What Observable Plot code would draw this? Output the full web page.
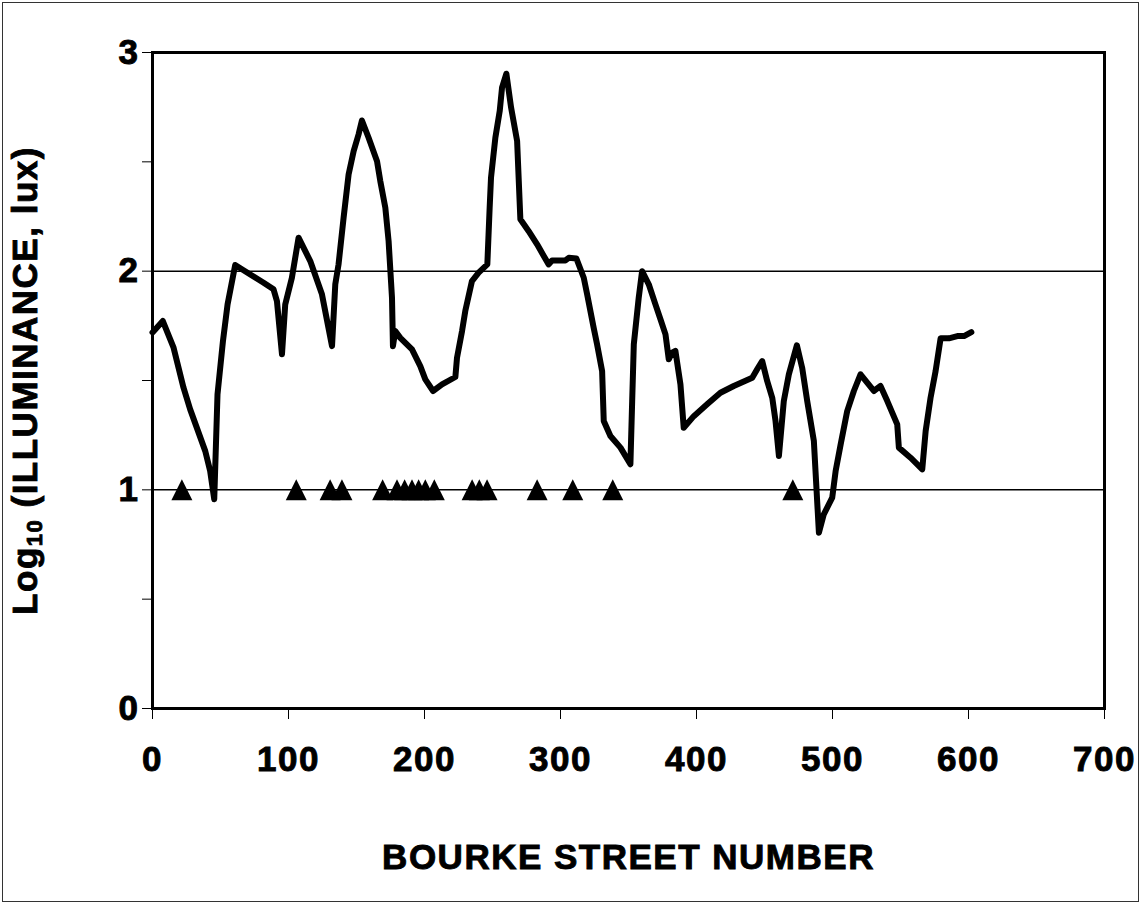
<!DOCTYPE html>
<html>
<head>
<meta charset="utf-8">
<script src="https://cdn.jsdelivr.net/npm/d3@7"></script>
<script src="https://cdn.jsdelivr.net/npm/@observablehq/plot@0.6"></script>
<style>
  html, body { margin: 0; padding: 0; background: #fff; }
  #chart svg { display: block; outline: 1px solid #333; outline-offset: -3px; }
  #chart svg text { stroke: black; stroke-width: 0.9px; paint-order: stroke; }
</style>
</head>
<body>
<div id="chart"></div>
<script>
// Bourke Street number (x) and log10 illuminance (y)
const streetNumber = [
  0, 7.6, 15.5, 22.8, 27.7, 38.8, 42.4, 45.4, 47.8, 51.8, 55.2, 60.8, 71.9, 81.7, 89, 91.5, 95.2, 97.6,
  102.5, 107.4, 116, 124.6, 132, 134.4, 136.8, 140.5, 144.2, 147.9, 151.5, 154, 158.9, 165.1, 167.5,
  171.2, 173.6, 176.1, 176.8, 178.5, 182.2, 190.8, 196.9, 200.6, 206.3, 212.9, 222.7, 223.9, 227.6,
  230, 234.9, 239.8, 246.2, 247.9, 248.9, 252.1, 255.3, 257, 260.2, 263.7, 268.1, 270.5, 276.6,
  282.8, 287.7, 291.3, 293.8, 303.6, 306.1, 311.7, 317.1, 319.6, 324.4, 326.9, 330.6, 331.8, 336.7,
  344.1, 351.4, 352.7, 353.9, 357.5, 360, 364.9, 369.8, 373.5, 377.2, 379.6, 382.1, 384.5, 388.2,
  390.6, 398, 407.8, 417.6, 427.4, 441, 444.6, 448.3, 452, 455.7, 458.1, 460.6, 464.2, 467.9, 473.8,
  477.7, 481.4, 486.3, 490, 493.6, 499.8, 502.3, 506, 510.8, 515.7, 520.6, 525.5, 530.4, 535.3,
  540.3, 547.6, 548.8, 557.4, 566, 568.5, 572.1, 575.8, 579.5, 585.6, 591.8, 596.7, 602.1
];
const logIlluminance = [
  1.72, 1.772, 1.65, 1.467, 1.368, 1.177, 1.086, 0.957, 1.437, 1.68, 1.848, 2.028, 1.985, 1.947, 1.917, 1.863, 1.62, 1.848,
  1.97, 2.153, 2.046, 1.894, 1.657, 1.94, 2.031, 2.244, 2.443, 2.549, 2.625, 2.689, 2.61, 2.503, 2.412,
  2.29, 2.138, 1.878, 1.657, 1.726, 1.695, 1.642, 1.566, 1.505, 1.452, 1.482, 1.516, 1.604, 1.726,
  1.818, 1.955, 1.993, 2.031, 2.29, 2.427, 2.61, 2.732, 2.839, 2.903, 2.747, 2.595, 2.237, 2.183,
  2.123, 2.069, 2.031, 2.049, 2.049, 2.061, 2.058, 1.97, 1.894, 1.741, 1.665, 1.543, 1.315, 1.246,
  1.193, 1.117, 1.406, 1.665, 1.878, 2.0, 1.94, 1.848, 1.78, 1.711, 1.597, 1.627, 1.635, 1.482,
  1.284, 1.337, 1.391, 1.444, 1.475, 1.513, 1.551, 1.589, 1.497, 1.421, 1.315, 1.155, 1.406, 1.528, 1.661,
  1.558, 1.406, 1.223, 0.804, 0.888, 0.964, 1.086, 1.208, 1.36, 1.452, 1.528, 1.49, 1.452, 1.475,
  1.406, 1.299, 1.193, 1.147, 1.094, 1.269, 1.421, 1.543, 1.693, 1.693, 1.703, 1.703, 1.721
];

// Triangle markers (street numbers) drawn at log level 1
const markerNumber = [21.6, 105.7, 130.6, 139.3, 169.2, 179.8, 185.4, 190.8, 195.7, 200.6, 207.2, 235, 240.3, 246, 282.8, 309, 338.4, 470.8];
const markerLevel  = [1, 1, 1, 1, 1, 1, 1, 1, 1, 1, 1, 1, 1, 1, 1, 1, 1, 1];

const xTicks = [0, 100, 200, 300, 400, 500, 600, 700];
const yTicks = [0, 0.5, 1, 1.5, 2, 2.5, 3];
const yTickLabels = ["0", "", "1", "", "2", "", "3"];
const gridLevels = [1, 2];
const xTitle = "BOURKE STREET NUMBER";
const yTitleMain = "Log";
const yTitleSub = "10";
const yTitleRest = " (ILLUMINANCE, lux)";

const lineData = streetNumber.map((x, i) => ({x, y: logIlluminance[i]}));
const markerData = markerNumber.map((x, i) => ({x, y: markerLevel[i]}));

const triangle = {
  draw(ctx, size) {
    const a = Math.sqrt(size / Math.PI);
    ctx.moveTo(0, -a);
    ctx.lineTo(a, a);
    ctx.lineTo(-a, a);
    ctx.closePath();
  }
};

const font = "'Liberation Sans', Arial, Helvetica, sans-serif";

const chart = Plot.plot({
  width: 1141,
  height: 904,
  marginLeft: 152,
  marginRight: 37,
  marginTop: 52,
  marginBottom: 196,
  x: {domain: [0, 700]},
  y: {domain: [0, 3]},
  style: {fontFamily: font, fontWeight: "bold", fontSize: "35px", color: "black", background: "white", letterSpacing: "1.5px"},
  marks: [
    Plot.ruleY(gridLevels, {stroke: "black", strokeWidth: 1.5}),
    Plot.axisX({ticks: xTicks, tickSize: 11, tickPadding: 27, label: null, fontSize: 35, fontWeight: "bold", stroke: "black"}),
    Plot.axisY({ticks: yTicks, tickSize: 10, tickPadding: 3, label: null, fontSize: 35, fontWeight: "bold",
      tickFormat: (d) => yTickLabels[yTicks.indexOf(d)]}),
    Plot.line(lineData, {x: "x", y: "y", stroke: "black", strokeWidth: 6, strokeLinejoin: "round", strokeLinecap: "round"}),
    Plot.dot(markerData, {x: "x", y: "y", symbol: triangle, r: 10.5, fill: "black", stroke: "none"}),
    Plot.frame({stroke: "black", strokeWidth: 3}),
    Plot.text([xTitle], {frameAnchor: "bottom", dy: 149, lineAnchor: "middle", textAnchor: "middle", fontSize: 35, fontWeight: "bold", fill: "black"}),
    Plot.text([yTitleMain + yTitleSub + yTitleRest], {frameAnchor: "left", dx: -127, rotate: -90, lineAnchor: "middle", textAnchor: "middle", fontSize: 35, fontWeight: "bold", fill: "black"})
  ]
});

document.getElementById("chart").appendChild(chart);

// Render the subscript in the y-axis title as real text with tspans
d3.select(chart).selectAll("text").each(function () {
  if (this.textContent === yTitleMain + yTitleSub + yTitleRest) {
    const t = d3.select(this);
    t.text(null);
    t.append("tspan").text(yTitleMain);
    t.append("tspan").attr("font-size", 22).attr("dy", "0.25em").text(yTitleSub);
    t.append("tspan").attr("dy", "-0.16em").text(yTitleRest);
  }
});
</script>
</body>
</html>
